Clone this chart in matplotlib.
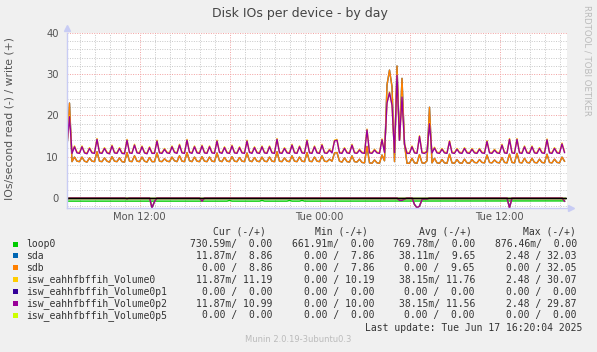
import numpy as np
import pandas as pd
import matplotlib
matplotlib.use("Agg")
import matplotlib.pyplot as plt
import matplotlib.dates as mdates
from matplotlib.ticker import MultipleLocator, FuncFormatter
from matplotlib.patches import Rectangle

# 10 minute samples, Mon 07:10 -> Tue 16:20
times = pd.date_range("2025-06-16 07:10", periods=200, freq="10min")

# write (+) IOs/s
p2_write = [
    13.0, 19.7, 10.8, 12.4, 10.9, 10.8, 12.4, 10.9, 10.7, 12.0,
    10.9, 10.8, 14.2, 10.9, 10.8, 12.0, 10.9, 10.7, 12.6, 10.9,
    10.8, 12.0, 10.8, 10.7, 14.0, 10.9, 10.8, 12.8, 10.9, 10.8,
    12.4, 10.9, 10.7, 12.2, 10.8, 10.8, 13.8, 10.9, 10.8, 11.8,
    10.9, 10.8, 12.4, 11.0, 10.8, 12.8, 10.9, 10.8, 14.0, 11.0,
    10.8, 12.4, 10.9, 10.8, 12.6, 10.9, 10.8, 12.4, 10.9, 10.8,
    13.8, 11.0, 10.8, 12.2, 10.9, 10.8, 12.6, 10.9, 10.8, 12.2,
    10.9, 10.8, 13.8, 11.0, 10.8, 12.2, 10.9, 10.8, 12.4, 10.9,
    10.8, 12.4, 10.9, 10.8, 14.2, 10.9, 10.8, 12.0, 10.9, 10.8,
    12.8, 10.9, 10.8, 12.4, 10.9, 10.8, 13.9, 10.9, 10.8, 12.4,
    10.9, 10.8, 12.8, 10.9, 10.8, 11.6, 10.9, 13.8, 14.0, 10.9,
    10.8, 12.0, 10.9, 10.8, 12.8, 10.9, 10.8, 11.6, 10.9, 10.8,
    16.5, 10.9, 10.8, 11.6, 10.9, 10.8, 14.1, 11.0, 23.0, 25.5,
    22.5, 11.0, 29.8, 14.0, 24.5, 13.0, 10.8, 10.8, 12.4, 10.9,
    10.8, 14.9, 10.9, 10.8, 11.2, 18.0, 10.9, 12.1, 10.9, 10.8,
    11.8, 10.9, 10.8, 13.7, 10.9, 10.8, 11.8, 10.9, 10.8, 12.0,
    10.9, 10.8, 11.8, 10.9, 10.8, 11.8, 10.9, 10.8, 13.7, 10.9,
    10.8, 11.6, 10.9, 10.8, 12.8, 10.9, 10.8, 14.2, 10.9, 10.8,
    14.2, 10.9, 10.8, 12.4, 10.9, 10.8, 12.4, 10.9, 10.8, 12.0,
    10.9, 10.8, 14.1, 10.9, 10.8, 12.0, 10.9, 10.8, 13.1, 11.0,
]
vol0_write = [
    13.2, 19.9, 11.0, 12.6, 11.1, 11.0, 12.6, 11.1, 10.9, 12.2,
    11.1, 11.0, 14.4, 11.1, 11.0, 12.2, 11.1, 10.9, 12.8, 11.1,
    11.0, 12.2, 11.0, 10.9, 14.2, 11.1, 11.0, 13.0, 11.1, 11.0,
    12.6, 11.1, 10.9, 12.4, 11.0, 11.0, 14.0, 11.1, 11.0, 12.0,
    11.1, 11.0, 12.6, 11.2, 11.0, 13.0, 11.1, 11.0, 14.2, 11.2,
    11.0, 12.6, 11.1, 11.0, 12.8, 11.1, 11.0, 12.6, 11.1, 11.0,
    14.0, 11.2, 11.0, 12.4, 11.1, 11.0, 12.8, 11.1, 11.0, 12.4,
    11.1, 11.0, 14.0, 11.2, 11.0, 12.4, 11.1, 11.0, 12.6, 11.1,
    11.0, 12.6, 11.1, 11.0, 14.4, 11.1, 11.0, 12.2, 11.1, 11.0,
    13.0, 11.1, 11.0, 12.6, 11.1, 11.0, 14.1, 11.1, 11.0, 12.6,
    11.1, 11.0, 13.0, 11.1, 11.0, 11.8, 11.1, 14.0, 14.2, 11.1,
    11.0, 12.2, 11.1, 11.0, 13.0, 11.1, 11.0, 11.8, 11.1, 11.0,
    16.7, 11.1, 11.0, 11.8, 11.1, 11.0, 14.3, 11.2, 23.2, 25.7,
    22.7, 11.2, 30.0, 14.2, 24.7, 13.2, 11.0, 11.0, 12.6, 11.1,
    11.0, 15.1, 11.1, 11.0, 11.4, 18.2, 11.1, 12.3, 11.1, 11.0,
    12.0, 11.1, 11.0, 13.9, 11.1, 11.0, 12.0, 11.1, 11.0, 12.2,
    11.1, 11.0, 12.0, 11.1, 11.0, 12.0, 11.1, 11.0, 13.9, 11.1,
    11.0, 11.8, 11.1, 11.0, 13.0, 11.1, 11.0, 14.4, 11.1, 11.0,
    14.4, 11.1, 11.0, 12.6, 11.1, 11.0, 12.6, 11.1, 11.0, 12.2,
    11.1, 11.0, 14.3, 11.1, 11.0, 12.2, 11.1, 11.0, 13.3, 11.2,
]
sdb_write = [
    12.0, 23.0, 8.8, 9.9, 8.9, 8.8, 9.9, 8.9, 8.7, 9.7,
    8.9, 8.8, 11.2, 8.9, 8.8, 9.7, 8.9, 8.7, 10.0, 8.9,
    8.8, 9.7, 8.8, 8.7, 11.0, 8.9, 8.8, 10.2, 8.9, 8.8,
    9.9, 8.9, 8.7, 9.8, 8.8, 8.8, 10.9, 8.9, 8.8, 9.5,
    8.9, 8.8, 9.9, 9.0, 8.8, 10.2, 8.9, 8.8, 11.0, 9.0,
    8.8, 9.9, 8.9, 8.8, 10.0, 8.9, 8.8, 9.9, 8.9, 8.8,
    10.9, 9.0, 8.8, 9.8, 8.9, 8.8, 10.0, 8.9, 8.8, 9.8,
    8.9, 8.8, 10.9, 9.0, 8.8, 9.8, 8.9, 8.8, 9.9, 8.9,
    8.8, 9.9, 8.9, 8.8, 11.2, 8.9, 8.8, 9.7, 8.9, 8.8,
    10.2, 8.9, 8.8, 9.9, 8.9, 8.8, 11.0, 8.9, 8.8, 9.9,
    8.9, 8.8, 10.2, 8.9, 8.8, 9.4, 8.9, 10.9, 11.0, 8.9,
    8.7, 9.7, 8.8, 8.7, 10.2, 8.8, 8.7, 9.4, 8.6, 8.5,
    12.5, 8.5, 8.4, 9.2, 8.5, 8.4, 10.4, 9.0, 27.4, 31.0,
    27.0, 8.8, 32.0, 14.0, 29.0, 13.0, 8.4, 8.4, 9.6, 8.5,
    8.4, 10.5, 8.5, 8.4, 9.0, 22.0, 8.5, 9.6, 8.5, 8.4,
    9.3, 8.5, 8.4, 10.6, 8.5, 8.4, 9.3, 8.5, 8.4, 9.4,
    8.5, 8.4, 9.3, 8.6, 8.5, 9.3, 8.6, 8.5, 10.4, 8.6,
    8.5, 9.2, 8.6, 8.5, 9.8, 8.6, 8.5, 10.6, 8.6, 8.5,
    10.8, 8.6, 8.5, 9.6, 8.6, 8.5, 9.6, 8.6, 8.5, 9.4,
    8.6, 8.5, 10.6, 8.6, 8.5, 9.4, 8.6, 8.5, 9.9, 8.9,
]
sda_write = sdb_write  # same values as sdb in the picture

# read (-) IOs/s, only non-zero samples (sample index -> value)
read_idx = [0, 24, 34, 35, 54, 133, 134, 135, 139, 140, 141, 142, 143, 144, 177, 199]
read_val = [0.3, 0.2, 2.4, 0.9, 0.8, 0.6, 0.6, 0.3, 1.6, 2.4, 2.0, 0.4, 0.3, 0.3, 2.4, 0.8]

loop0_idx = [0, 64, 65, 66, 77, 78, 79, 88, 89, 90, 93, 94, 95, 199]
loop0_read = [0.78, 0.78, 0.62, 0.78, 0.78, 0.62, 0.78, 0.78, 0.62, 0.78, 0.78, 0.62, 0.78, 0.73]

names = ["loop0", "sda", "sdb", "isw_eahhfbffih_Volume0", "isw_eahhfbffih_Volume0p1",
         "isw_eahhfbffih_Volume0p2", "isw_eahhfbffih_Volume0p5"]
colors = ["#00CC00", "#0066B3", "#FF8000", "#FFCC00", "#330099", "#990099", "#CCFF00"]
cur = ["730.59m/  0.00", "11.87m/  8.86", "0.00 /  8.86", "11.87m/ 11.19",
       "0.00 /  0.00", "11.87m/ 10.99", "0.00 /  0.00"]
mins = ["661.91m/  0.00", "0.00 /  7.86", "0.00 /  7.86", "0.00 / 10.19",
        "0.00 /  0.00", "0.00 / 10.00", "0.00 /  0.00"]
avgs = ["769.78m/  0.00", "38.11m/  9.65", "0.00 /  9.65", "38.15m/ 11.76",
        "0.00 /  0.00", "38.15m/ 11.56", "0.00 /  0.00"]
maxs = ["876.46m/  0.00", "2.48 / 32.03", "0.00 / 32.05", "2.48 / 30.07",
        "0.00 /  0.00", "2.48 / 29.87", "0.00 /  0.00"]

n = len(times)
reads = np.zeros(n)
reads[read_idx] = read_val
zero = np.zeros(n)

W, H = 597, 352
fig = plt.figure(figsize=(W / 100, H / 100), dpi=100, facecolor="#F0F0F0")
ax = fig.add_axes([67 / W, 1 - 208 / H, 500 / W, 175 / H])
ax.set_facecolor("white")

lw = 1.0
ax.plot(times[loop0_idx], -np.array(loop0_read), color=colors[0], lw=lw)
ax.plot(times, zero, color=colors[0], lw=lw)
ax.plot(times, -reads, color=colors[1], lw=lw)
ax.plot(times, sda_write, color=colors[1], lw=lw)
ax.plot(times, zero, color=colors[2], lw=lw)
ax.plot(times, sdb_write, color=colors[2], lw=lw)
ax.plot(times, -reads, color=colors[3], lw=lw)
ax.plot(times, vol0_write, color=colors[3], lw=lw)
ax.plot(times, zero, color=colors[4], lw=lw)
ax.plot(times, -reads, color=colors[5], lw=lw)
ax.plot(times, p2_write, color=colors[5], lw=lw)
ax.plot(times, zero, color=colors[6], lw=lw)
ax.axhline(0, color="black", lw=1.0)

ax.set_xlim(times[0], times[0] + pd.Timedelta(minutes=2000))
ax.set_ylim(-2.45, 40)

ax.yaxis.set_major_locator(MultipleLocator(10))
ax.yaxis.set_minor_locator(MultipleLocator(2))
ax.xaxis.set_major_locator(mdates.HourLocator(byhour=[0, 6, 12, 18]))
ax.xaxis.set_minor_locator(mdates.HourLocator())
ax.xaxis.set_major_formatter(FuncFormatter(
    lambda v, p: mdates.num2date(v).strftime("%a %H:%M") if mdates.num2date(v).hour in (0, 12) else ""))

ax.grid(which="major", color="#F2A0A0", ls=(0, (1, 1.5)), lw=0.7)
ax.grid(which="minor", color="#C8C8C8", ls=(0, (1, 1.5)), lw=0.7)
ax.set_axisbelow(True)
ax.tick_params(which="both", length=0, labelsize=7.2, colors="#555555")
ax.tick_params(axis="y", pad=6)
ax.tick_params(axis="x", pad=3)

for s in ["top", "right"]:
    ax.spines[s].set_visible(False)
for s in ["left", "bottom"]:
    ax.spines[s].set_color("#C8CCF4")
    ax.spines[s].set_linewidth(1.0)
ax.plot([0], [1.03], marker="^", color="#C8CCF4", ms=4, transform=ax.transAxes, clip_on=False)
ax.plot([1.008], [0], marker=">", color="#C8CCF4", ms=4, transform=ax.transAxes, clip_on=False)

fig.text(10 / W, 1 - 118 / H, "IOs/second read (-) / write (+)", rotation=90,
         ha="center", va="center", fontsize=7.8, color="#555555")

fig.text(300 / W, 1 - 13 / H, "Disk IOs per device - by day", ha="center", va="center",
         fontsize=9, color="#444444")
fig.text(587 / W, 1 - 5 / H, "RRDTOOL / TOBI OETIKER", rotation=270, ha="center", va="top",
         fontsize=6.2, color="#BBBBBB")

mono = dict(family="DejaVu Sans Mono", fontsize=7.0, color="#333333", va="center")
col_ends = [272, 374, 475, 577]
head_ends = [266, 368, 472, 576]
for label, xe in zip(["Cur (-/+)", "Min (-/+)", "Avg (-/+)", "Max (-/+)"], head_ends):
    fig.text(xe / W, 1 - 232 / H, label, ha="right", **mono)
for k, name in enumerate(names):
    y = 244 + 11.9 * k
    fig.patches.append(Rectangle((12.5 / W, 1 - (y + 2.5) / H), 5 / W, 5 / H,
                                 transform=fig.transFigure, facecolor=colors[k], edgecolor="none"))
    fig.text(26 / W, 1 - y / H, name, ha="left", **mono)
    for vals, xe in zip([cur, mins, avgs, maxs], col_ends):
        fig.text(xe / W, 1 - y / H, vals[k], ha="right", **mono)
fig.text(582 / W, 1 - 328 / H, "Last update: Tue Jun 17 16:20:04 2025", ha="right", **mono)
fig.text(298.5 / W, 1 - 340 / H, "Munin 2.0.19-3ubuntu0.3", ha="center", va="center",
         fontsize=6.0, color="#BBBBBB")

fig.savefig("out.png", dpi=100, facecolor=fig.get_facecolor())
